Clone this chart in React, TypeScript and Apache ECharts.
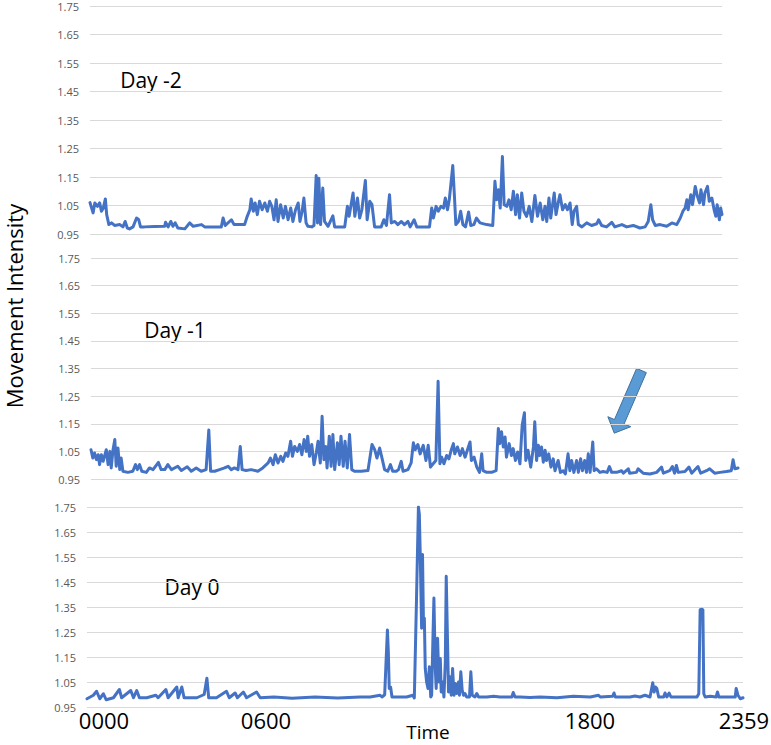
import React, { useEffect, useRef } from "react";
import * as echarts from "echarts";

// [minute of day, movement intensity]
const dayMinus2: [number, number][] = [
  [0, 1.06], [7, 1.024], [11, 1.059], [17, 1.047], [22, 1.059], [26, 1.03], [30, 1.04], [35, 1.073], [38, 1.018],
  [43, 0.983], [49, 0.989], [56, 0.98], [68, 0.983], [75, 0.975], [80, 0.994], [85, 0.971], [90, 0.968], [98, 0.975],
  [106, 1.006], [111, 1.0], [115, 0.975], [124, 0.975], [147, 0.976], [170, 0.977], [172, 0.991], [178, 0.975],
  [184, 0.994], [189, 0.977], [194, 0.989], [200, 0.971], [216, 0.968], [227, 0.989], [235, 0.977], [254, 0.983],
  [261, 0.975], [299, 0.975], [303, 1.006], [308, 0.98], [322, 1.0], [328, 0.983], [352, 0.983], [358, 1.012],
  [364, 1.035], [367, 1.073], [372, 1.03], [376, 1.059], [381, 1.018], [386, 1.065], [392, 1.035], [398, 1.059],
  [404, 1.03], [409, 1.065], [414, 1.047], [419, 1.0], [424, 1.07], [428, 0.994], [434, 1.053], [440, 1.006],
  [445, 1.047], [451, 1.0], [457, 1.041], [462, 0.994], [468, 1.035], [474, 1.059], [478, 0.994], [483, 1.03],
  [487, 1.076], [492, 0.989], [496, 0.977], [505, 0.975], [510, 0.98], [515, 1.155], [518, 0.989], [521, 1.146],
  [525, 0.983], [530, 1.111], [534, 0.994], [542, 0.977], [553, 1.014], [557, 0.975], [580, 0.975], [586, 1.047],
  [590, 1.012], [599, 1.094], [603, 1.012], [609, 1.076], [614, 1.006], [619, 1.035], [627, 1.138], [631, 1.0],
  [637, 1.065], [642, 1.053], [648, 0.975], [663, 0.975], [669, 1.0], [675, 0.98], [682, 1.088], [686, 0.989],
  [694, 0.994], [701, 0.983], [709, 0.994], [716, 0.983], [724, 0.994], [729, 0.975], [738, 1.0], [744, 0.975],
  [759, 0.975], [773, 0.975], [778, 1.041], [782, 1.006], [788, 1.047], [793, 1.03], [799, 1.047], [805, 1.041],
  [809, 1.076], [814, 1.035], [818, 1.07], [822, 1.129], [826, 1.19], [830, 1.076], [833, 0.983], [839, 0.994],
  [844, 1.03], [849, 0.983], [855, 0.975], [862, 1.027], [867, 0.98], [874, 0.983], [880, 1.006], [888, 0.989],
  [903, 0.983], [917, 0.98], [922, 1.135], [926, 1.07], [930, 1.105], [934, 1.041], [939, 1.222], [943, 1.053],
  [949, 1.047], [954, 1.07], [959, 1.035], [964, 1.1], [969, 1.018], [973, 1.088], [978, 1.006], [983, 1.094],
  [988, 1.03], [994, 1.012], [1000, 1.047], [1006, 0.994], [1013, 1.085], [1019, 1.012], [1025, 1.059], [1031, 1.0],
  [1036, 1.047], [1040, 0.994], [1045, 1.076], [1049, 1.006], [1057, 1.094], [1061, 1.018], [1066, 1.059],
  [1070, 1.088], [1076, 1.035], [1082, 1.053], [1087, 1.035], [1093, 1.059], [1098, 0.983], [1102, 1.03],
  [1108, 1.047], [1112, 0.983], [1120, 0.975], [1131, 0.989], [1142, 0.98], [1154, 0.986], [1158, 1.0], [1165, 0.98],
  [1176, 0.975], [1188, 0.991], [1195, 0.975], [1211, 0.983], [1222, 0.975], [1237, 0.98], [1252, 0.971],
  [1264, 0.975], [1271, 0.994], [1277, 1.053], [1281, 1.0], [1287, 0.98], [1298, 0.983], [1313, 0.977],
  [1325, 0.989], [1336, 0.983], [1344, 1.006], [1350, 1.03], [1355, 1.041], [1359, 1.07], [1362, 1.035],
  [1368, 1.088], [1372, 1.053], [1378, 1.117], [1383, 1.082], [1388, 1.059], [1391, 1.105], [1397, 1.053],
  [1400, 1.094], [1406, 1.117], [1410, 1.065], [1416, 1.076], [1421, 1.035], [1425, 1.012], [1428, 1.053],
  [1433, 1.0], [1436, 1.041], [1439, 1.018],
];

const dayMinus1: [number, number][] = [
  [0, 1.056], [4, 1.026], [8, 1.044], [12, 1.02], [16, 1.038], [19, 1.002], [23, 1.038], [27, 1.014], [30, 1.032],
  [34, 1.056], [38, 1.002], [42, 1.05], [45, 0.99], [49, 1.056], [53, 1.093], [56, 0.996], [60, 1.062], [64, 0.984],
  [67, 1.026], [71, 0.978], [82, 0.974], [93, 0.978], [99, 1.002], [103, 0.984], [108, 1.002], [113, 0.978],
  [123, 0.974], [130, 0.99], [138, 0.984], [150, 1.01], [156, 0.984], [164, 0.984], [171, 1.002], [179, 0.984],
  [193, 0.996], [201, 0.981], [214, 0.994], [223, 0.978], [234, 0.99], [245, 0.978], [256, 0.984], [262, 1.127],
  [266, 0.978], [275, 0.978], [286, 0.984], [297, 0.99], [305, 0.996], [312, 0.984], [319, 0.99], [327, 0.984],
  [332, 1.068], [336, 0.984], [345, 0.981], [356, 0.984], [371, 0.978], [382, 0.99], [394, 1.008], [399, 1.026],
  [405, 1.002], [410, 1.038], [416, 1.008], [422, 1.032], [427, 1.014], [433, 1.044], [438, 1.032], [444, 1.087],
  [448, 1.032], [453, 1.068], [459, 1.05], [464, 1.075], [469, 1.038], [474, 1.093], [479, 1.05], [482, 1.105],
  [486, 1.032], [491, 1.075], [496, 1.002], [501, 1.044], [505, 1.087], [510, 1.008], [514, 1.177], [518, 1.02],
  [522, 1.068], [525, 0.99], [530, 1.105], [534, 0.996], [538, 1.111], [542, 0.984], [548, 1.081], [552, 1.002],
  [556, 1.105], [561, 0.996], [565, 1.087], [570, 0.99], [575, 1.111], [580, 0.984], [586, 0.978], [601, 0.978],
  [616, 0.981], [622, 1.044], [625, 1.075], [631, 1.056], [636, 1.026], [642, 1.062], [648, 1.02], [653, 0.984],
  [660, 0.978], [666, 1.002], [671, 0.978], [679, 0.978], [684, 0.984], [690, 1.014], [694, 0.978], [705, 0.984],
  [712, 1.008], [717, 1.081], [721, 1.056], [727, 1.075], [732, 1.041], [739, 1.072], [745, 1.017], [750, 1.072],
  [755, 0.993], [761, 1.005], [767, 1.017], [772, 1.304], [776, 1.005], [780, 1.029], [785, 1.005], [791, 1.035],
  [796, 1.023], [801, 1.054], [806, 1.078], [809, 1.041], [815, 1.066], [821, 1.035], [826, 1.06], [832, 1.029],
  [837, 1.054], [843, 1.084], [846, 1.017], [852, 1.029], [858, 0.993], [864, 0.974], [869, 1.041], [872, 0.98],
  [880, 0.974], [891, 0.974], [901, 0.98], [906, 1.133], [909, 1.078], [913, 1.121], [917, 1.066], [921, 1.102],
  [924, 1.029], [930, 1.078], [935, 1.035], [939, 1.06], [944, 1.017], [949, 1.048], [954, 1.005], [959, 1.145],
  [964, 1.19], [967, 1.017], [972, 1.054], [978, 0.993], [984, 1.066], [987, 1.157], [991, 1.017], [995, 1.072],
  [998, 1.035], [1002, 1.066], [1006, 1.011], [1010, 1.054], [1013, 1.017], [1018, 1.041], [1023, 0.993],
  [1028, 1.023], [1032, 0.98], [1039, 1.017], [1044, 0.974], [1050, 0.98], [1055, 0.968], [1061, 1.041],
  [1065, 0.98], [1069, 1.017], [1074, 0.974], [1080, 1.017], [1084, 0.974], [1089, 1.023], [1093, 0.98],
  [1098, 1.017], [1102, 0.974], [1106, 1.041], [1110, 0.974], [1116, 1.084], [1119, 0.98], [1124, 0.987],
  [1132, 0.974], [1139, 0.977], [1148, 0.974], [1153, 0.995], [1158, 0.974], [1169, 0.974], [1180, 0.98],
  [1184, 0.971], [1195, 0.987], [1198, 0.971], [1213, 0.974], [1217, 0.987], [1228, 0.971], [1243, 0.968],
  [1258, 0.974], [1269, 0.993], [1273, 0.971], [1287, 0.98], [1293, 0.995], [1298, 0.971], [1302, 0.999],
  [1306, 0.974], [1321, 0.977], [1330, 0.993], [1336, 0.971], [1350, 0.995], [1356, 0.971], [1369, 0.98],
  [1376, 0.987], [1387, 0.971], [1399, 0.974], [1413, 0.977], [1424, 0.98], [1428, 1.02], [1432, 0.987],
  [1439, 0.99],
];

const day0: [number, number][] = [
  [0, 0.983], [14, 0.997], [21, 1.013], [28, 0.983], [36, 1.003], [42, 0.979], [58, 0.987], [71, 1.02], [76, 0.987],
  [96, 1.016], [102, 0.987], [109, 1.016], [115, 0.987], [131, 0.987], [151, 0.997], [156, 0.987], [173, 1.02],
  [178, 0.987], [197, 1.03], [200, 0.987], [208, 1.03], [213, 0.987], [241, 0.987], [257, 1.0], [263, 1.065],
  [267, 0.987], [284, 0.987], [306, 1.013], [312, 0.987], [325, 1.006], [330, 0.987], [343, 1.01], [350, 0.987],
  [372, 1.01], [380, 0.987], [410, 0.99], [450, 0.985], [500, 0.99], [550, 0.986], [599, 0.99], [621, 0.99],
  [643, 0.997], [647, 0.99], [653, 0.999], [656, 1.131], [659, 1.258], [661, 1.171], [663, 1.024], [666, 1.03],
  [669, 0.99], [679, 0.99], [701, 0.99], [715, 0.997], [718, 0.986], [723, 1.399], [727, 1.75], [729, 1.721],
  [731, 1.56], [734, 1.265], [736, 1.56], [738, 1.292], [740, 1.305], [742, 1.104], [745, 1.05], [748, 1.024],
  [751, 1.111], [754, 0.99], [756, 0.997], [759, 1.238], [761, 1.386], [764, 1.104], [766, 1.024], [769, 1.225],
  [772, 1.05], [775, 1.144], [777, 1.01], [780, 1.05], [783, 0.99], [786, 1.131], [788, 1.473], [791, 1.198],
  [793, 1.01], [796, 1.071], [799, 0.997], [802, 1.104], [805, 0.997], [808, 1.044], [811, 1.004], [815, 1.05],
  [817, 0.997], [820, 1.091], [823, 1.017], [826, 0.997], [829, 1.004], [833, 0.99], [839, 0.99], [842, 1.091],
  [845, 0.997], [851, 0.99], [855, 1.004], [859, 0.99], [877, 0.99], [892, 0.993], [906, 0.99], [921, 0.99],
  [932, 0.99], [935, 1.008], [939, 0.99], [950, 0.99], [972, 0.988], [994, 0.99], [1031, 0.987], [1067, 0.993],
  [1104, 0.99], [1122, 0.997], [1126, 0.99], [1153, 0.993], [1156, 1.006], [1159, 0.99], [1191, 0.99],
  [1202, 0.994], [1213, 0.99], [1224, 0.997], [1235, 0.99], [1241, 1.047], [1244, 1.01], [1247, 1.03],
  [1250, 1.024], [1254, 0.99], [1265, 0.99], [1268, 1.006], [1272, 0.99], [1277, 1.006], [1281, 0.99],
  [1301, 0.99], [1323, 0.99], [1338, 0.99], [1342, 1.003], [1345, 1.339], [1349, 1.341], [1351, 1.339],
  [1353, 1.003], [1356, 0.99], [1367, 0.993], [1380, 0.99], [1383, 1.01], [1386, 0.99], [1404, 0.99],
  [1422, 0.99], [1424, 1.024], [1428, 0.997], [1433, 0.983], [1439, 0.987],
];

const panelTitles = ["Day -2", "Day -1", "Day 0"];
const xTickLabels = ["0000", "0600", "1800", "2359"];
const yAxisTitle = "Movement Intensity";
const xAxisTitle = "Time";
const yMin = 0.95;
const yMax = 1.75;
const yStep = 0.1;

// layout (pixels)
const grids = [
  { left: 90, top: 6, width: 632, height: 228 },
  { left: 91, top: 258, width: 647, height: 221 },
  { left: 87, top: 507, width: 656, height: 200 },
];
const titlePos = [
  [151, 80],
  [175, 330],
  [192, 587],
];
const xLabelPos = [
  [104, 720],
  [266, 720],
  [590, 720],
  [744, 720],
];

const FONT = "'Open Sans', 'Liberation Sans', sans-serif";
const LINE_COLOR = "#4472C4";

export default function App() {
  const ref = useRef<HTMLDivElement>(null);
  useEffect(() => {
    if (!ref.current) return;
    const chart = echarts.init(ref.current, undefined, { renderer: "svg" });
    const series = [dayMinus2, dayMinus1, day0];

    const arrowBase = [619.3, 421.7];
    const u = [-0.401, 0.916];
    const n = [0.916, 0.401];
    const tail = [641.5, 370.5];
    const sw = 5.3;
    const hw = 12.5;
    const hl = 12.5;
    const arrowPts = [
      [tail[0] - n[0] * sw, tail[1] - n[1] * sw],
      [tail[0] + n[0] * sw, tail[1] + n[1] * sw],
      [arrowBase[0] + n[0] * sw, arrowBase[1] + n[1] * sw],
      [arrowBase[0] + n[0] * hw, arrowBase[1] + n[1] * hw],
      [arrowBase[0] + u[0] * hl, arrowBase[1] + u[1] * hl],
      [arrowBase[0] - n[0] * hw, arrowBase[1] - n[1] * hw],
      [arrowBase[0] - n[0] * sw, arrowBase[1] - n[1] * sw],
    ];

    const option: any = {
      animation: false,
      backgroundColor: "#ffffff",
      grid: grids.map((g) => ({ ...g, containLabel: false })),
      xAxis: grids.map((_, i) => ({
        type: "value",
        gridIndex: i,
        min: 0,
        max: 1439,
        show: false,
        splitLine: { show: false },
      })),
      yAxis: grids.map((_, i) => ({
        type: "value",
        gridIndex: i,
        min: yMin,
        max: yMax,
        interval: yStep,
        axisLine: { show: false },
        axisTick: { show: false },
        axisLabel: {
          color: "#595959",
          fontSize: 11,
          fontFamily: FONT,
          margin: 11,
          formatter: (v: number) => v.toFixed(2),
        },
        splitLine: { show: true, lineStyle: { color: "#d9d9d9", width: 1 } },
      })),
      series: series.map((d, i) => ({
        type: "line",
        xAxisIndex: i,
        yAxisIndex: i,
        data: d,
        showSymbol: false,
        symbol: "none",
        lineStyle: { color: LINE_COLOR, width: 3, cap: "round", join: "round" },
        silent: true,
      })),
      graphic: [
        ...panelTitles.map((t, i) => ({
          type: "text",
          x: titlePos[i][0],
          y: titlePos[i][1],
          style: {
            text: t,
            fill: "#000",
            fontSize: 21,
            fontFamily: FONT,
            align: "center",
            verticalAlign: "middle",
          },
        })),
        ...xTickLabels.map((t, i) => ({
          type: "text",
          x: xLabelPos[i][0],
          y: xLabelPos[i][1],
          style: {
            text: t,
            fill: "#000",
            fontSize: 22,
            fontFamily: FONT,
            align: "center",
            verticalAlign: "middle",
          },
        })),
        {
          type: "text",
          x: 428,
          y: 732,
          style: {
            text: xAxisTitle,
            fill: "#000",
            fontSize: 19,
            fontFamily: FONT,
            align: "center",
            verticalAlign: "middle",
          },
        },
        {
          type: "text",
          x: 14,
          y: 306,
          rotation: Math.PI / 2,
          style: {
            text: yAxisTitle,
            fill: "#000",
            fontSize: 22,
            fontFamily: FONT,
            align: "center",
            verticalAlign: "middle",
          },
        },
        {
          type: "polygon",
          shape: { points: arrowPts },
          style: { fill: "#5B9BD5", stroke: "#41719C", lineWidth: 1 },
        },
      ],
    };
    chart.setOption(option);
    return () => chart.dispose();
  }, []);

  return (
    <div
      ref={ref}
      style={{ position: "absolute", left: 0, top: 0, width: 771, height: 745 }}
    />
  );
}
